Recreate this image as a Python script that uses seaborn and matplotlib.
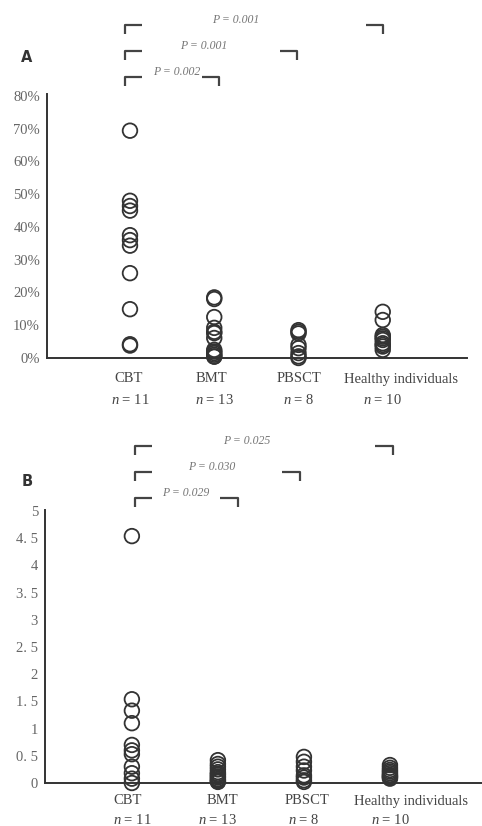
import matplotlib
matplotlib.use("Agg")
import matplotlib.pyplot as plt
from matplotlib.transforms import blended_transform_factory
import pandas as pd
import seaborn as sns

# Group labels and sizes
groups = ["CBT", "BMT", "PBSCT", "Healthy individuals"]
group_n = [11, 13, 8, 10]

# Panel A: percentage values per group
a_cbt = [69.4, 48.0, 46.4, 45.0, 37.5, 36.0, 34.3, 25.9, 14.9, 4.2, 3.8]
a_bmt = [18.5, 18.0, 12.5, 9.2, 8.0, 7.6, 6.1, 2.5, 2.0, 1.5, 1.0, 0.5, 0.4]
a_pbsct = [8.5, 8.0, 7.5, 4.0, 3.0, 1.5, 0.5, 0.0]
a_healthy = [14.1, 11.6, 7.0, 6.5, 6.0, 5.5, 4.5, 4.0, 3.5, 2.5]

# Panel B: values per group
b_cbt = [4.54, 1.54, 1.33, 1.10, 0.70, 0.60, 0.53, 0.30, 0.18, 0.08, 0.0]
b_bmt = [0.42, 0.35, 0.30, 0.25, 0.20, 0.17, 0.15, 0.12, 0.10, 0.07, 0.05, 0.03, 0.02]
b_pbsct = [0.48, 0.39, 0.30, 0.23, 0.14, 0.10, 0.05, 0.02]
b_healthy = [0.33, 0.28, 0.24, 0.21, 0.18, 0.15, 0.13, 0.12, 0.10, 0.08]

# Axis tick values and labels
a_ticks = [0, 10, 20, 30, 40, 50, 60, 70, 80]
a_ticklabels = ["0%", "10%", "20%", "30%", "40%", "50%", "60%", "70%", "80%"]
b_ticks = [0, 0.5, 1, 1.5, 2, 2.5, 3, 3.5, 4, 4.5, 5]
b_ticklabels = ["0", "0. 5", "1", "1. 5", "2", "2. 5", "3", "3. 5", "4", "4. 5", "5"]

# Pairwise comparisons against CBT (BMT, PBSCT, healthy)
a_pvalues = ["P = 0.002", "P = 0.001", "P = 0.001"]
b_pvalues = ["P = 0.029", "P = 0.030", "P = 0.025"]

sns.set_theme(style="white")
plt.rcParams["font.family"] = ["Liberation Serif", "DejaVu Serif"]
plt.rcParams["mathtext.fontset"] = "custom"
plt.rcParams["mathtext.rm"] = "Liberation Serif"
plt.rcParams["mathtext.it"] = "Liberation Serif:italic"

W, H = 482, 826
fig = plt.figure(figsize=(W / 100, H / 100), dpi=100)
fig.patch.set_facecolor("white")


def frame(px_left, px_right, px_top, px_bottom):
    return [px_left / W, 1 - px_bottom / H, (px_right - px_left) / W, (px_bottom - px_top) / H]


def long_table(values_by_group):
    rows = []
    for g, vals in zip(groups, values_by_group):
        rows += [(g, v) for v in vals]
    return pd.DataFrame(rows, columns=["group", "value"])


def draw_panel(ax, df, ylim, xlim, ticks, ticklabels):
    sns.stripplot(data=df, x="group", y="value", order=groups, jitter=False,
                  size=10.5, linewidth=1.3, edgecolor="#333333", color="#333333",
                  ax=ax, clip_on=False, zorder=3)
    for coll in ax.collections:
        coll.set_facecolor("none")
        coll.set_edgecolor("#333333")
    ax.set_xlim(*xlim)
    ax.set_ylim(*ylim)
    ax.set_yticks(ticks)
    ax.set_yticklabels(ticklabels, fontsize=10.5, color="#666666")
    ax.set_xticks(range(len(groups)))
    ax.set_xticklabels([])
    ax.tick_params(axis="both", length=0, pad=5)
    ax.set_xlabel("")
    ax.set_ylabel("")
    for side in ["top", "right"]:
        ax.spines[side].set_visible(False)
    for side in ["left", "bottom"]:
        ax.spines[side].set_color("#333333")
        ax.spines[side].set_linewidth(1.4)
    return blended_transform_factory(ax.transData, fig.transFigure)


def brackets(ax, tr, left_x, right_xs, line_px, text_xs, text_px, labels):
    arm = 0.2
    drop = 9 / H
    for rx, ly, tx, ty, lab in zip(right_xs, line_px, text_xs, text_px, labels):
        y = 1 - ly / H
        ax.plot([left_x, left_x, left_x + arm], [y - drop, y, y], color="#444444",
                lw=1.6, transform=tr, clip_on=False, solid_capstyle="butt")
        ax.plot([rx - arm, rx, rx], [y, y, y - drop], color="#444444",
                lw=1.6, transform=tr, clip_on=False, solid_capstyle="butt")
        ax.text(tx, 1 - ty / H, lab, transform=tr, ha="center", va="center",
                fontsize=8.5, style="italic", color="#777777")


def group_labels(ax, tr, name_px, n_px, name_shift):
    for i, (g, n) in enumerate(zip(groups, group_n)):
        ax.text(i + name_shift[i], 1 - name_px / H, g, transform=tr, ha="center",
                va="center", fontsize=10.5, color="#444444")
        ax.text(i, 1 - n_px / H, f"$n$ = {n}", transform=tr, ha="center",
                va="center", fontsize=10.5, color="#444444")


# Panel A
axA = fig.add_axes(frame(47, 467, 94, 358))
trA = draw_panel(axA, long_table([a_cbt, a_bmt, a_pbsct, a_healthy]), (0, 80.6),
                 (-0.985, 4.0), a_ticks, a_ticklabels)
group_labels(axA, trA, 379, 400, [-0.02, -0.03, 0.0, 0.22])
brackets(axA, trA, -0.06, [1.06, 1.98, 3.0], [77, 51, 25],
         [0.55, 0.87, 1.26], [72, 46, 20], a_pvalues)
fig.text(27 / W, 1 - 57 / H, "A", fontsize=10.5, fontweight="bold",
         family="DejaVu Sans", color="#333333", ha="center", va="center")

# Panel B
axB = fig.add_axes(frame(45, 482, 510, 783))
trB = draw_panel(axB, long_table([b_cbt, b_bmt, b_pbsct, b_healthy]), (0, 5.02),
                 (-1.01, 4.07), b_ticks, b_ticklabels)
group_labels(axB, trB, 801, 820, [-0.05, 0.05, 0.03, 0.25])
brackets(axB, trB, 0.035, [1.23, 1.95, 3.03], [498, 472, 446],
         [0.63, 0.93, 1.33], [493, 467, 441], b_pvalues)
fig.text(27 / W, 1 - 481 / H, "B", fontsize=10.5, fontweight="bold",
         family="DejaVu Sans", color="#333333", ha="center", va="center")

fig.savefig("out.png", dpi=100, facecolor="white")
